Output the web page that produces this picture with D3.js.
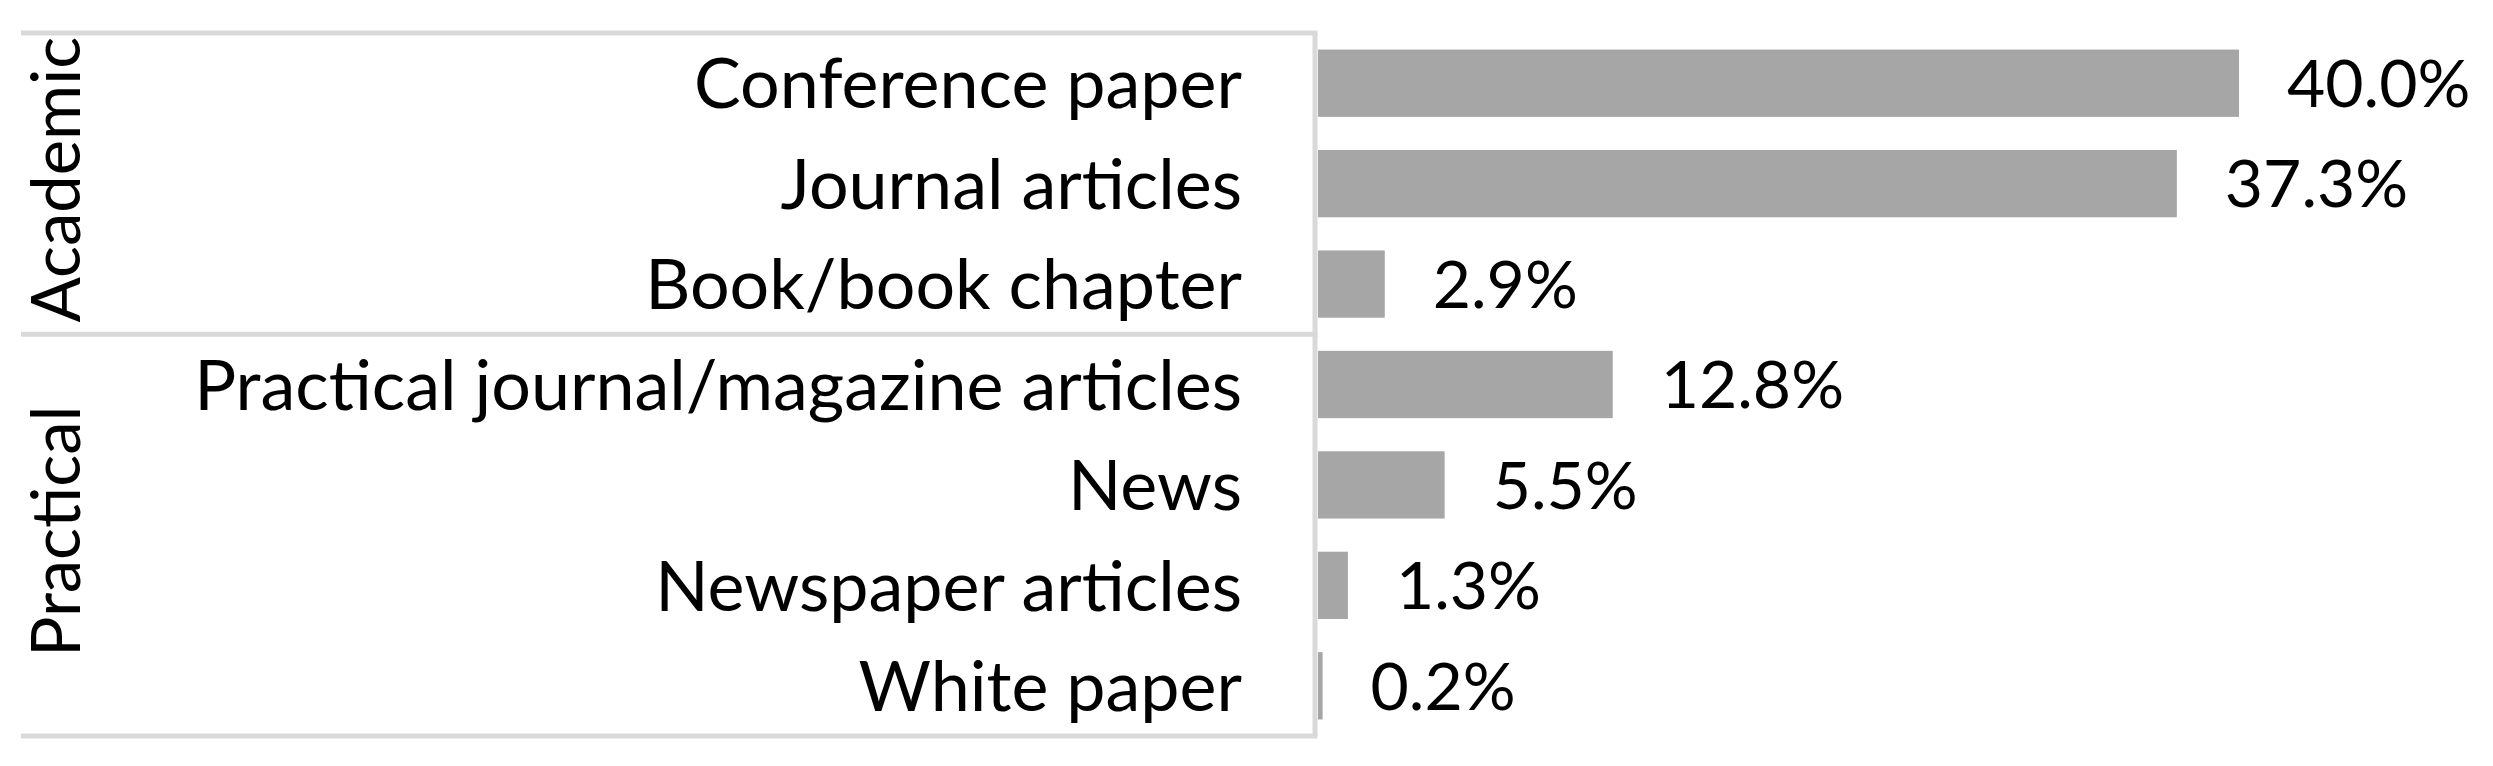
<!DOCTYPE html>
<html>
<head>
<meta charset="utf-8">
<style>
  body { margin: 0; background: #fff; }
  svg { display: block; }
  text { font-family: Lato, "Open Sans", sans-serif; fill: #000; }
  .sep { stroke: #d9d9d9; stroke-width: 5; fill: none; }
</style>
</head>
<body>
<svg width="2493" height="766"></svg>
<script src="https://cdn.jsdelivr.net/npm/d3@7"></script>
<script>
// Data
var categories = ["Conference paper", "Journal articles", "Book/book chapter",
  "Practical journal/magazine articles", "News", "Newspaper articles", "White paper"];
var shares = [40.0, 37.3, 2.9, 12.8, 5.5, 1.3, 0.2];
var groups = ["Academic", "Practical"];
var groupSizes = [3, 4];

var svg = d3.select("svg"),
    width = 2493,
    height = 766;

var plotTop = 33, plotBottom = 736,
    boxLeft = 21, boxRight = 1315,
    barLeft = 1318;

// Scales
var x = d3.scaleLinear()
    .domain([0, 40])
    .range([barLeft, 2239]);

var y = d3.scaleBand()
    .domain(categories)
    .range([plotTop, plotBottom])
    .paddingInner(0.33)
    .paddingOuter(0.165);

// Bars
svg.append("g")
  .selectAll("rect")
  .data(categories)
  .enter().append("rect")
    .attr("x", x(0))
    .attr("y", function (d) { return y(d); })
    .attr("width", function (d, i) { return x(shares[i]) - x(0); })
    .attr("height", y.bandwidth())
    .attr("fill", "#a6a6a6");

// Value labels
svg.append("g")
  .selectAll("text")
  .data(categories)
  .enter().append("text")
    .attr("x", function (d, i) { return x(shares[i]) + 48; })
    .attr("y", function (d) { return y(d) + y.bandwidth() / 2; })
    .attr("dy", "0.36em")
    .style("font-size", "66px")
    .text(function (d, i) { return shares[i].toFixed(1) + "%"; });

// Category labels
svg.append("g")
  .selectAll("text")
  .data(categories)
  .enter().append("text")
    .attr("x", 1242)
    .attr("y", function (d) { return y(d) + y.bandwidth() / 2; })
    .attr("dy", "0.36em")
    .attr("text-anchor", "end")
    .style("font-size", "70px")
    .text(function (d) { return d; });

// Group labels, clipped to their group
var step = y.step();
var start = 0;
groups.forEach(function (g, gi) {
  var y0 = plotTop + start * step;
  var y1 = gi === groups.length - 1 ? plotBottom : plotTop + (start + groupSizes[gi]) * step;

  svg.append("clipPath")
      .attr("id", "clip" + gi)
    .append("rect")
      .attr("x", boxLeft)
      .attr("y", y0 + 3)
      .attr("width", 100)
      .attr("height", y1 - y0 - 6);

  svg.append("g")
      .attr("clip-path", "url(#clip" + gi + ")")
    .append("text")
      .attr("transform", "translate(80," + ((y0 + y1) / 2 - 4) + ") rotate(-90)")
      .attr("text-anchor", "middle")
      .style("font-size", "67px")
      .text(g);

  start += groupSizes[gi];
});

// Box lines
var lines = [plotTop, plotTop + 3 * step, plotBottom];
svg.append("g")
  .selectAll("line")
  .data(lines)
  .enter().append("line")
    .attr("class", "sep")
    .attr("x1", boxLeft)
    .attr("x2", boxRight + 2.5)
    .attr("y1", function (d) { return d; })
    .attr("y2", function (d) { return d; });

svg.append("line")
    .attr("class", "sep")
    .attr("x1", boxRight)
    .attr("x2", boxRight)
    .attr("y1", plotTop)
    .attr("y2", plotBottom);
</script>
</body>
</html>
